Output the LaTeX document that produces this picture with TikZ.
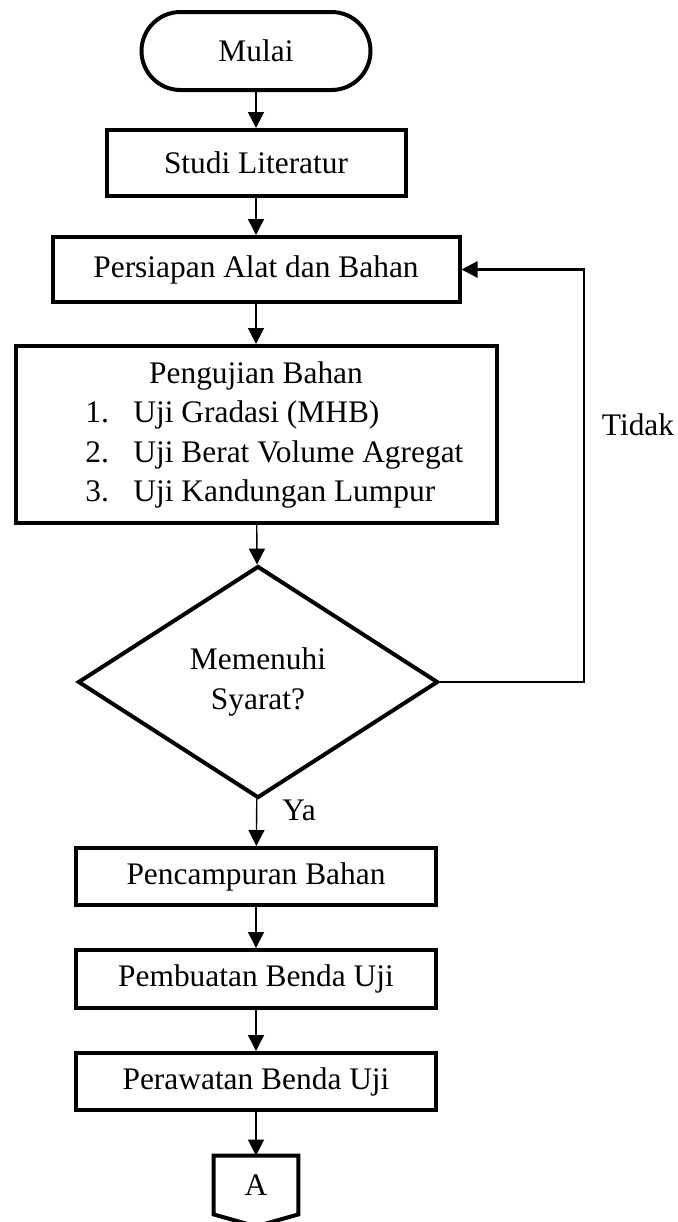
\documentclass[tikz,border=0pt]{standalone}
\usepackage{fontspec}
\setmainfont{Liberation Serif}
\usetikzlibrary{positioning,arrows.meta,shapes.geometric}
\tikzset{
    x=0.5pt,
    y=-0.5pt,
    font=\fontsize{15.7}{19.7}\selectfont,
    block/.style = {
        draw,
        shape=rectangle,
        inner sep=0pt,
        minimum width=180pt,
        minimum height=28.5pt,
        line width=2pt
    },
    terminal/.style = {
        block,
        rounded corners=19.5pt,
        minimum width=114.5pt,
        minimum height=39pt
    },
    decision/.style = {
        draw,
        shape=diamond,
        inner sep=0pt,
        minimum width=180pt,
        minimum height=116pt,
        line width=2pt
    },
    connector/.style = {
        shape=rectangle,
        inner sep=0pt,
        minimum width=42pt,
        minimum height=29pt
    },
    flow/.style = {
        draw,
        line width=0.7pt
    },
    >={Triangle[length=8pt,width=8pt]},
}

\begin{document}
\begin{tikzpicture}
                \useasboundingbox (0,0) rectangle (678,1222);

                \node[terminal] (mulai) at (256,51) {Mulai};
                \node[block, minimum width=149.5pt, minimum height=33pt] (studi) at (256,163) {Studi Literatur};
                \node[block, minimum width=203.5pt, minimum height=32.5pt] (persiapan) at (256,269.5) {Persiapan Alat dan Bahan};
                \node[block, minimum width=240.5pt, minimum height=88.5pt] (pengujian) at (256,434.5)
                    {\begin{tabular}{@{}l@{}}
                     \makebox[240.5pt]{Pengujian Bahan}\\
                     \hspace*{35pt}\makebox[24pt][l]{1.}Uji Gradasi (MHB)\\
                     \hspace*{35pt}\makebox[24pt][l]{2.}Uji Berat Volume Agregat\\
                     \hspace*{35pt}\makebox[24pt][l]{3.}Uji Kandungan Lumpur
                     \end{tabular}};
                \node[decision, align=center] (syarat) at (258,682) {Memenuhi\\Syarat?};
                \node[block] (pencampuran) at (256,876.5) {Pencampuran Bahan};
                \node[block, minimum height=29pt] (pembuatan) at (256,979) {Pembuatan Benda Uji};
                \node[block] (perawatan) at (256,1081.5) {Perawatan Benda Uji};
                \node[connector] (sambung) at (256,1185) {A};
                \coordinate (balik) at (584,682);

                \node (ya) at (299,810) {Ya};
                \node (tidak) at (638,425) {Tidak};

                \path[draw, line width=2pt] (sambung.north west) -- (sambung.north east) -- (sambung.south east)
                    -- ([yshift=-6pt]sambung.south) -- (sambung.south west) -- cycle;

                \path[flow, ->] (mulai) -- (studi);
                \path[flow, ->] (studi) -- (persiapan);
                \path[flow, ->] (persiapan) -- (pengujian);
                \path[flow, ->] (pengujian) -- (syarat);
                \path[flow, ->] (syarat) -- (pencampuran);
                \path[flow, ->] (pencampuran) -- (pembuatan);
                \path[flow, ->] (pembuatan) -- (perawatan);
                \path[flow, ->] (perawatan) -- (sambung.north);
                \path[flow, ->, line width=1.2pt] (syarat.east) -- (balik) |- (persiapan.east);
            \end{tikzpicture}
\end{document}
